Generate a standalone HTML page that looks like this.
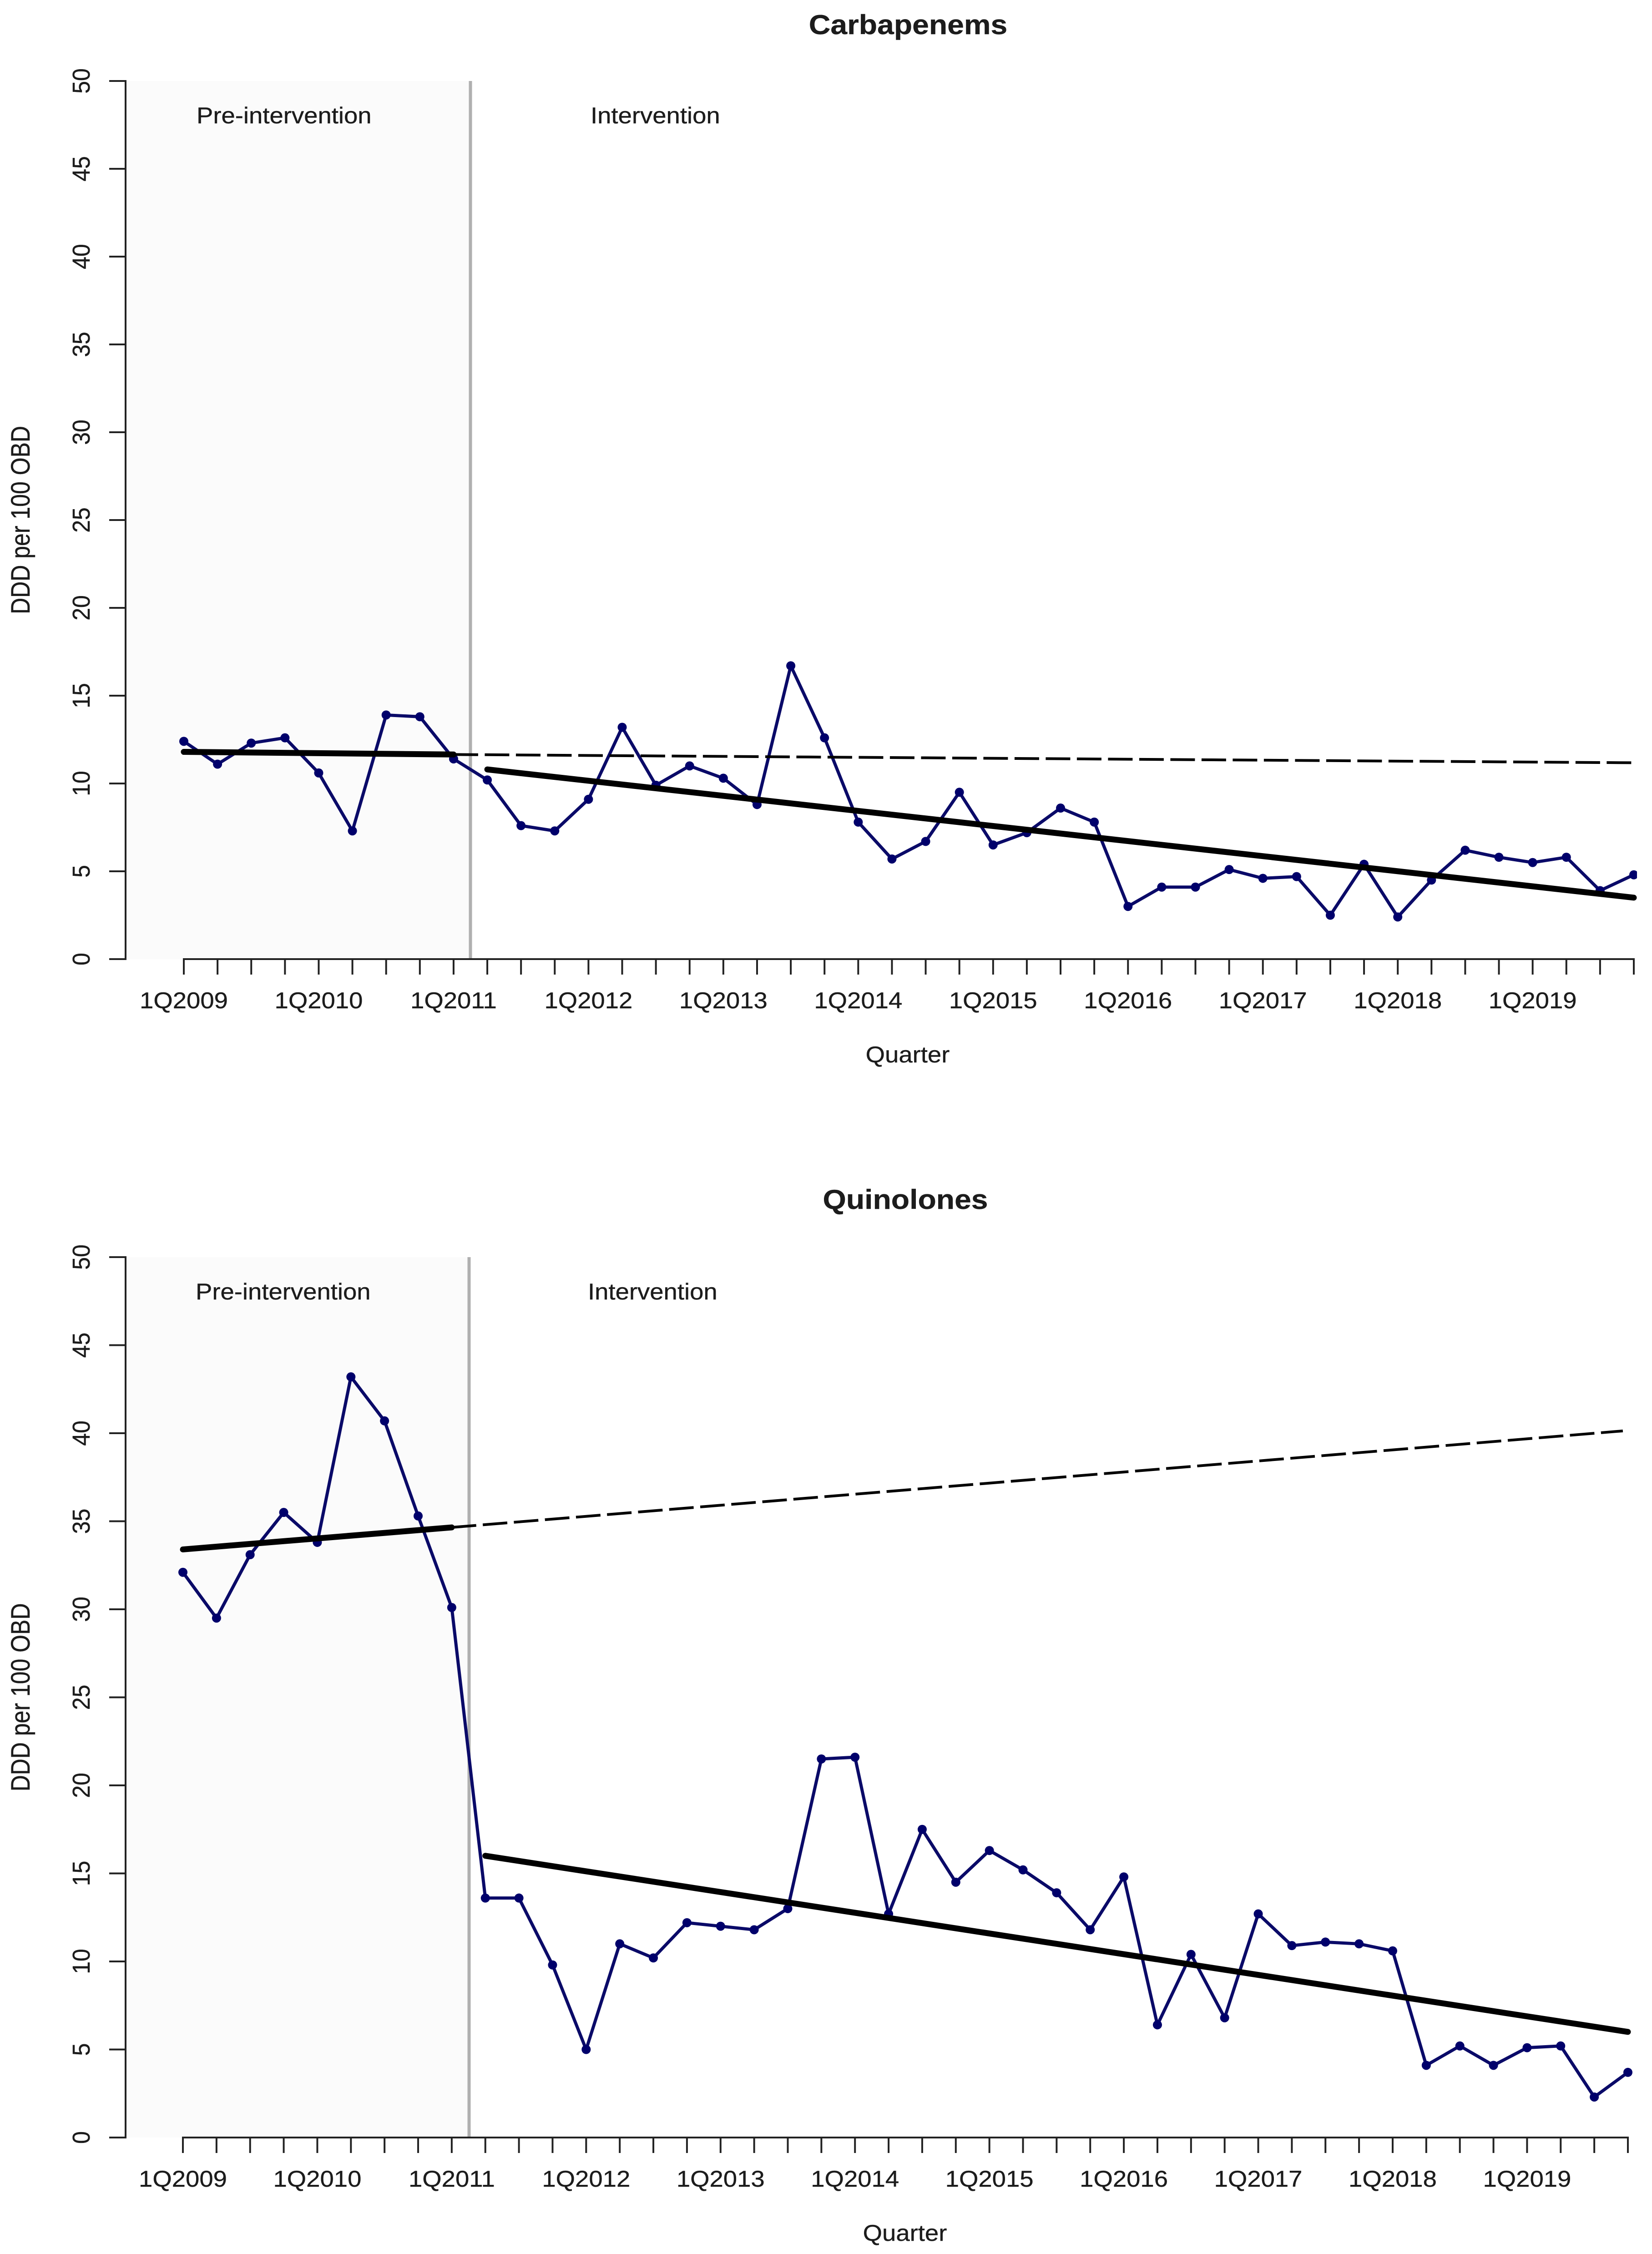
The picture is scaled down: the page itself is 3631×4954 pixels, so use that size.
<!DOCTYPE html>
<html lang="en">
<head>
<meta charset="utf-8">
<title>Carbapenems and Quinolones DDD per 100 OBD</title>
<style>
html,body{margin:0;padding:0;background:#fff;}
svg{display:block;}
text{font-family:"Liberation Sans",Arial,sans-serif;fill:#1c1c1c;stroke:#1c1c1c;stroke-width:0.4;}
</style>
</head>
<body>
<svg id="chart" xmlns="http://www.w3.org/2000/svg" width="3631" height="4954" viewBox="0 0 3631 4954"></svg>
<script>
const categories = [
  '1Q2009','2Q2009','3Q2009','4Q2009','1Q2010','2Q2010','3Q2010','4Q2010',
  '1Q2011','2Q2011','3Q2011','4Q2011','1Q2012','2Q2012','3Q2012','4Q2012',
  '1Q2013','2Q2013','3Q2013','4Q2013','1Q2014','2Q2014','3Q2014','4Q2014',
  '1Q2015','2Q2015','3Q2015','4Q2015','1Q2016','2Q2016','3Q2016','4Q2016',
  '1Q2017','2Q2017','3Q2017','4Q2017','1Q2018','2Q2018','3Q2018','4Q2018',
  '1Q2019','2Q2019','3Q2019','4Q2019'
];
const yTicks = [0,5,10,15,20,25,30,35,40,45,50];
const carbapenems = [12.4,11.1,12.3,12.6,10.6,7.3,13.9,13.8,11.4,10.2,7.6,7.3,9.1,13.2,9.9,11.0,10.3,8.8,16.7,12.6,7.8,5.7,6.7,9.5,6.5,7.2,8.6,7.8,3.0,4.1,4.1,5.1,4.6,4.7,2.5,5.4,2.4,4.5,6.2,5.8,5.5,5.8,3.9,4.8];
const quinolones = [32.1,29.5,33.1,35.5,33.8,43.2,40.7,35.3,30.1,13.6,13.6,9.8,5.0,11.0,10.2,12.2,12.0,11.8,13.0,21.5,21.6,12.7,17.5,14.5,16.3,15.2,13.9,11.8,14.8,6.4,10.4,6.8,12.7,10.9,11.1,11.0,10.6,4.1,5.2,4.1,5.1,5.2,2.3,3.7];
const carbaPreTrend = [11.8,11.65];
const carbaPostTrend = [10.8,3.5];
const carbaCounterfactual = [11.65,11.18];
const quinoPreTrend = [33.4,34.65];
const quinoPostTrend = [16.0,6.0];
const quinoCounterfactual = [34.65,40.13];
const preEndIndex = 8;
const postStartIndex = 9;
const lastIndex = 43;

const NS = 'http://www.w3.org/2000/svg';
const root = document.getElementById('chart');
const FONT = 50;
const SX_H = 1.09;
const SX_TICK = 1.08;
const SX_TITLE = 1.16;

function make(parent, tag, attrs, name) {
  const e = document.createElementNS(NS, tag);
  for (const k in attrs) e.setAttribute(k, attrs[k]);
  
  
  parent.appendChild(e);
  return e;
}
function label(parent, str, x, y, size, anchor, rotated, weight, sx, name) {
  const t = make(parent, 'text', {
    transform: 'translate(' + x + ' ' + y + ') scale(' + sx + ' 1)' + (rotated ? ' rotate(-90)' : ''),
    'font-size': size,
    'text-anchor': anchor,
    'font-weight': weight || 'normal'
  }, name);
  t.textContent = str;
  return t;
}

function drawPanel(cfg) {
  const g = make(root, 'g', {}, cfg.id + '-panel');
  const xs = i => cfg.x0 + (cfg.x1 - cfg.x0) * i / (categories.length - 1);
  const ys = v => cfg.y0 + (cfg.y50 - cfg.y0) * v / 50;

  make(g, 'rect', {x: cfg.axisX, y: cfg.y50, width: cfg.divider - cfg.axisX, height: cfg.y0 - cfg.y50, fill: '#fbfbfb'}, 'pre-intervention-shading');
  make(g, 'line', {x1: cfg.divider, x2: cfg.divider, y1: cfg.y50, y2: cfg.y0, stroke: '#b0b0b0', 'stroke-width': 7}, 'intervention-divider');

  label(g, cfg.title, cfg.titleX, cfg.titleY, 60, 'middle', false, 'bold', 1.10, 'chart-title');
  label(g, 'Pre-intervention', cfg.preX, cfg.annotY, FONT, 'start', false, 'normal', SX_H, 'pre-intervention-label');
  label(g, 'Intervention', cfg.intX, cfg.annotY, FONT, 'start', false, 'normal', SX_H, 'intervention-label');
  label(g, 'DDD per 100 OBD', 65, (cfg.y0 + cfg.y50) / 2, FONT, 'middle', true, 'normal', SX_TITLE, 'y-axis-title');
  label(g, 'Quarter', cfg.quarterX, cfg.y0 + 227, FONT, 'middle', false, 'normal', SX_H, 'x-axis-title');

  const axisStyle = {stroke: '#222', 'stroke-width': 4, 'stroke-linecap': 'square'};
  make(g, 'line', Object.assign({x1: cfg.axisX, x2: cfg.axisX, y1: cfg.y50, y2: cfg.y0}, axisStyle), 'y-axis-line');
  yTicks.forEach(v => {
    make(g, 'line', Object.assign({x1: 242, x2: cfg.axisX, y1: ys(v), y2: ys(v)}, axisStyle), 'y-tick-' + v);
    label(g, String(v), 197, ys(v), FONT, 'middle', true, 'normal', SX_TICK, 'y-tick-label-' + v);
  });
  make(g, 'line', Object.assign({x1: xs(0), x2: xs(lastIndex), y1: cfg.y0, y2: cfg.y0}, axisStyle), 'x-axis-line');
  categories.forEach((c, i) => {
    make(g, 'line', Object.assign({x1: xs(i), x2: xs(i), y1: cfg.y0, y2: cfg.y0 + 32}, axisStyle), 'x-tick-' + c);
    if (c.charAt(0) === '1') {
      label(g, c, xs(i), cfg.y0 + 108, FONT, 'middle', false, 'normal', SX_H, 'x-tick-label-' + c);
    }
  });

  const clipId = cfg.id + '-clip';
  const defs = make(g, 'clipPath', {id: clipId}, 'plot-clip');
  make(defs, 'rect', {x: 0, y: 0, width: cfg.clipRight, height: 4954}, 'plot-clip-rect');
  const marks = make(g, 'g', {'clip-path': 'url(#' + clipId + ')'}, 'series-group');

  const pts = cfg.values.map((v, i) => xs(i) + ',' + ys(v)).join(' ');
  make(marks, 'polyline', {points: pts, fill: 'none', stroke: '#0a0a68', 'stroke-width': 7, 'stroke-linejoin': 'miter'}, cfg.id + '-line');
  cfg.values.forEach((v, i) => {
    make(marks, 'circle', {cx: xs(i), cy: ys(v), r: 10, fill: '#00006b'}, 'point-' + categories[i]);
  });

  make(marks, 'line', {x1: xs(preEndIndex), y1: ys(cfg.cf[0]), x2: xs(cfg.cfEndIndex), y2: ys(cfg.cf[1]), stroke: '#000', 'stroke-width': 6, 'stroke-dasharray': '54 14.5'}, 'counterfactual-trend');
  make(marks, 'line', {x1: xs(0), y1: ys(cfg.pre[0]), x2: xs(preEndIndex), y2: ys(cfg.pre[1]), stroke: '#000', 'stroke-width': 13, 'stroke-linecap': 'round'}, 'pre-intervention-trend');
  make(marks, 'line', {x1: xs(postStartIndex), y1: ys(cfg.post[0]), x2: xs(lastIndex), y2: ys(cfg.post[1]), stroke: '#000', 'stroke-width': 13, 'stroke-linecap': 'round'}, 'intervention-trend');
}

drawPanel({id: 'carbapenems', title: 'Carbapenems', values: carbapenems, pre: carbaPreTrend, post: carbaPostTrend, cf: carbaCounterfactual, cfEndIndex: 42.97,
  x0: 404, x1: 3591, y0: 2108, y50: 178, axisX: 276, divider: 1034, clipRight: 3598,
  titleX: 1996, titleY: 75, preX: 432, intX: 1298, annotY: 271, quarterX: 1995});
drawPanel({id: 'quinolones', title: 'Quinolones', values: quinolones, pre: quinoPreTrend, post: quinoPostTrend, cf: quinoCounterfactual, cfEndIndex: 42.85,
  x0: 402, x1: 3578, y0: 4698, y50: 2763, axisX: 276, divider: 1031, clipRight: 3600,
  titleX: 1990, titleY: 2657, preX: 430, intX: 1292, annotY: 2856, quarterX: 1989});
</script>
</body>
</html>
